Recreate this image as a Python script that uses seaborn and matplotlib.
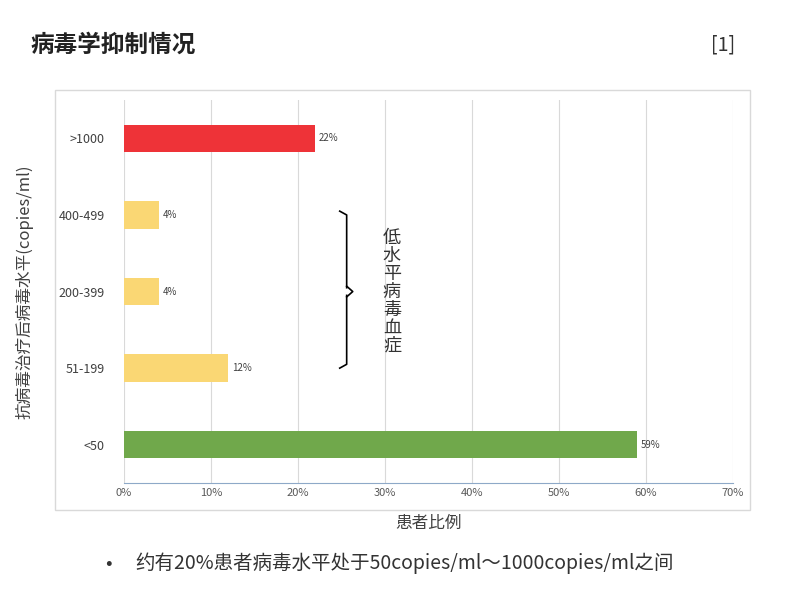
import matplotlib
matplotlib.use("Agg")
import matplotlib.pyplot as plt
from matplotlib import font_manager
import seaborn as sns
import pandas as pd
import numpy as np
from matplotlib.patches import Rectangle

cjk = None
for f in font_manager.fontManager.ttflist:
    if "CJK" in f.name and ("SC" in f.name or cjk is None):
        cjk = f.name
        if "SC" in f.name:
            break
if cjk is None:
    for p in font_manager.findSystemFonts():
        if "CJK" in p or "cjk" in p.lower():
            font_manager.fontManager.addfont(p)
            cjk = font_manager.FontProperties(fname=p).get_name()
            break
plt.rcParams["font.family"] = [cjk or "Noto Sans CJK SC", "DejaVu Sans"]
plt.rcParams["font.sans-serif"] = [cjk or "Noto Sans CJK SC", "DejaVu Sans"]

categories = [">1000", "400-499", "200-399", "51-199", "<50"]
values = [22, 4, 4, 12, 59]
colors = ["#EE3338", "#FAD774", "#FAD774", "#FAD774", "#70A84B"]
xticks = [0, 10, 20, 30, 40, 50, 60, 70]

df = pd.DataFrame({"cat": categories, "val": values})

fig = plt.figure(figsize=(8.06, 6.03), dpi=100)
ax = fig.add_axes([0.154, 0.199, 0.755, 0.635])
fig.patches.append(Rectangle((55/806, 1-510/603), 695/806, 420/603, transform=fig.transFigure,
                             fill=False, edgecolor="#d9d9d9", lw=1))

sns.barplot(data=df, x="val", y="cat", hue="cat", palette=colors, legend=False,
            width=0.36, ax=ax, orient="h", zorder=3, saturation=1)
for i, v in enumerate(values):
    ax.text(v + 0.4, i, f"{v}%", va="center", ha="left", fontsize=7, color="#404040")

ax.set_xlim(0, 70)
ax.set_ylim(4.5, -0.5)
ax.set_xticks(xticks)
ax.set_xticklabels([f"{t}%" for t in xticks], fontsize=8, color="#595959")
ax.tick_params(axis="y", labelsize=9, colors="#404040", length=0, pad=14)
ax.tick_params(axis="x", length=0)
ax.grid(axis="x", color="#d9d9d9", lw=0.8, zorder=0)
for s in ["top", "right", "left"]:
    ax.spines[s].set_visible(False)
ax.spines["bottom"].set_color("#8EA9C8")
ax.set_xlabel("患者比例", fontsize=12, color="#404040", labelpad=12)
ax.set_ylabel("抗病毒治疗后病毒水平(copies/ml)", fontsize=12, color="#404040", labelpad=18)

x0 = 24.8
ax.plot([x0, x0+0.8, x0+0.8], [0.95, 1.0, 1.95], color="black", lw=1.2)
ax.plot([x0+0.8, x0+0.8, x0], [2.05, 2.95, 3.0], color="black", lw=1.2)
ax.plot([x0+0.8, x0+1.5, x0+0.8], [1.93, 2.0, 2.07], color="black", lw=1.2)
ax.text(30.8, 2.0, "\n".join("低水平病毒血症"), ha="center", va="center",
        fontsize=13, color="#333333", linespacing=1.0)

fig.text(30/806, 1-45/603, "病毒学抑制情况", fontsize=17, fontweight="bold", va="center", color="#222222")
fig.text(735/806, 1-45/603, "[1]", fontsize=14, va="center", ha="right", color="#333333")
fig.text(105/806, 1-563/603, "•", fontsize=14, va="center", color="#333333")
fig.text(135/806, 1-563/603, "约有20%患者病毒水平处于50copies/ml～1000copies/ml之间",
         fontsize=14, va="center", color="#333333")

fig.savefig("out.png", dpi=100)
